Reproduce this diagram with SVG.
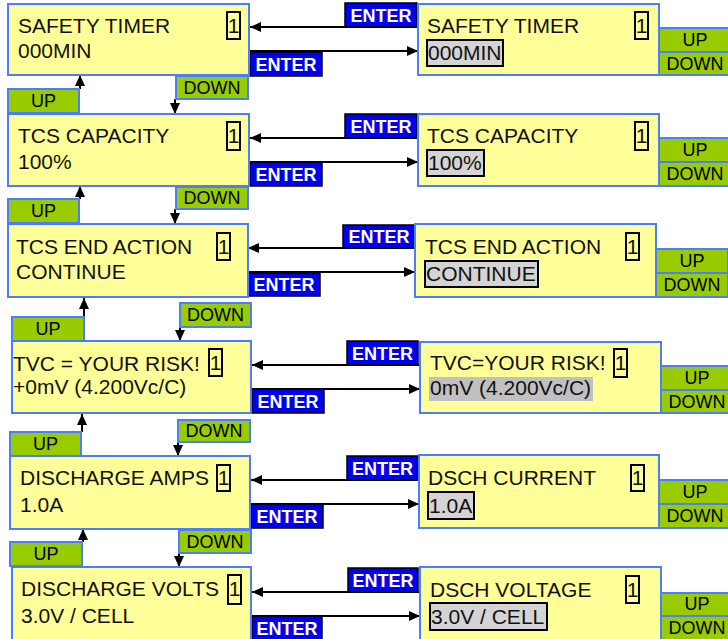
<svg xmlns="http://www.w3.org/2000/svg" width="728" height="639" viewBox="0 0 728 639">
<defs>
<marker id="ah" markerUnits="userSpaceOnUse" markerWidth="12" markerHeight="10" refX="11" refY="5" orient="auto">
<path d="M0,0 L11,5 L0,10 Z" fill="#000"/>
</marker>
<style>
.box{fill:#ffff99;stroke:#4a7dff;stroke-width:2}
.grn{fill:#99cc00;stroke:#4a7dff;stroke-width:2}
.ent{fill:#0000ee;stroke:#000;stroke-width:1.5}
.one{fill:none;stroke:#000;stroke-width:2}
.hl{fill:#d4d4d4;stroke:#000;stroke-width:2}
.t{font-family:"Liberation Sans",Arial,sans-serif;font-size:21px;fill:#111}
.g{font-family:"Liberation Sans",Arial,sans-serif;font-size:18px;fill:#000;text-anchor:middle}
.e{font-family:"Liberation Sans",Arial,sans-serif;font-size:18px;font-weight:bold;fill:#fff;text-anchor:middle}
.c{fill:none;stroke:#000;stroke-width:2;marker-end:url(#ah)}
</style>
</defs>

<g id="connectors">
<line class="c" x1="417" y1="27" x2="250" y2="27"/>
<line class="c" x1="250" y1="51" x2="418" y2="51"/>
<line class="c" x1="417" y1="138" x2="250" y2="138"/>
<line class="c" x1="250" y1="162" x2="418" y2="162"/>
<line class="c" x1="415" y1="248" x2="248" y2="248"/>
<line class="c" x1="248" y1="272" x2="415" y2="272"/>
<line class="c" x1="420" y1="365" x2="252" y2="365"/>
<line class="c" x1="252" y1="389" x2="420" y2="389"/>
<line class="c" x1="419" y1="480" x2="251" y2="480"/>
<line class="c" x1="251" y1="504" x2="419" y2="504"/>
<line class="c" x1="420" y1="592" x2="252" y2="592"/>
<line class="c" x1="252" y1="616" x2="420" y2="616"/>
<line class="c" x1="80" y1="89" x2="80" y2="75"/>
<line class="c" x1="80" y1="199" x2="80" y2="186"/>
<line class="c" x1="84" y1="317" x2="84" y2="298"/>
<line class="c" x1="82" y1="432" x2="82" y2="414"/>
<line class="c" x1="83" y1="542" x2="83" y2="529"/>
<line class="c" x1="175" y1="99" x2="175" y2="114"/>
<line class="c" x1="175" y1="209" x2="175" y2="224"/>
<line class="c" x1="180" y1="327" x2="180" y2="341"/>
<line class="c" x1="178" y1="442" x2="178" y2="456"/>
<line class="c" x1="179" y1="553" x2="179" y2="567"/>
</g>

<g id="enter-labels">
<rect class="ent" x="345" y="3" width="72" height="24"/><text class="e" x="381" y="22">ENTER</text>
<rect class="ent" x="250" y="52" width="72" height="24"/><text class="e" x="286" y="71">ENTER</text>
<rect class="ent" x="345" y="114" width="72" height="24"/><text class="e" x="381" y="133">ENTER</text>
<rect class="ent" x="250" y="162" width="72" height="24"/><text class="e" x="286" y="181">ENTER</text>
<rect class="ent" x="343" y="225" width="72" height="23"/><text class="e" x="379" y="243">ENTER</text>
<rect class="ent" x="248" y="273" width="72" height="23"/><text class="e" x="284" y="291">ENTER</text>
<rect class="ent" x="347" y="341" width="71" height="24"/><text class="e" x="382.5" y="360">ENTER</text>
<rect class="ent" x="252" y="389" width="72" height="24"/><text class="e" x="288" y="408">ENTER</text>
<rect class="ent" x="347" y="456" width="71" height="24"/><text class="e" x="382.5" y="475">ENTER</text>
<rect class="ent" x="251" y="504" width="72" height="24"/><text class="e" x="287" y="523">ENTER</text>
<rect class="ent" x="348" y="568" width="70" height="24"/><text class="e" x="383" y="587">ENTER</text>
<rect class="ent" x="252" y="616" width="70" height="24"/><text class="e" x="287" y="635">ENTER</text>
</g>

<g id="updown-labels">
<rect class="grn" x="8" y="89" width="71" height="24"/><text class="g" x="43.5" y="107">UP</text>
<rect class="grn" x="176" y="76" width="72" height="23"/><text class="g" x="212" y="94">DOWN</text>
<rect class="grn" x="8" y="199" width="71" height="24"/><text class="g" x="43.5" y="217">UP</text>
<rect class="grn" x="176" y="187" width="72" height="22"/><text class="g" x="212" y="204">DOWN</text>
<rect class="grn" x="12" y="317" width="72" height="24"/><text class="g" x="48" y="335">UP</text>
<rect class="grn" x="180" y="303" width="71" height="24"/><text class="g" x="215.5" y="321">DOWN</text>
<rect class="grn" x="10" y="432" width="71" height="24"/><text class="g" x="45.5" y="450">UP</text>
<rect class="grn" x="178" y="420" width="72" height="22"/><text class="g" x="214" y="437">DOWN</text>
<rect class="grn" x="10" y="542" width="72" height="24"/><text class="g" x="46" y="560">UP</text>
<rect class="grn" x="179" y="530" width="72" height="23"/><text class="g" x="215" y="548">DOWN</text>
<rect class="grn" x="659" y="28" width="72" height="24"/><text class="g" x="695" y="46">UP</text>
<rect class="grn" x="659" y="52" width="72" height="23"/><text class="g" x="695" y="70">DOWN</text>
<rect class="grn" x="659" y="138" width="72" height="24"/><text class="g" x="695" y="156">UP</text>
<rect class="grn" x="659" y="162" width="72" height="24"/><text class="g" x="695" y="180">DOWN</text>
<rect class="grn" x="656" y="249" width="72" height="24"/><text class="g" x="692" y="267">UP</text>
<rect class="grn" x="656" y="273" width="72" height="24"/><text class="g" x="692" y="291">DOWN</text>
<rect class="grn" x="661" y="366" width="72" height="24"/><text class="g" x="697" y="384">UP</text>
<rect class="grn" x="661" y="390" width="72" height="23"/><text class="g" x="697" y="408">DOWN</text>
<rect class="grn" x="659" y="480" width="72" height="24"/><text class="g" x="695" y="498">UP</text>
<rect class="grn" x="659" y="504" width="72" height="24"/><text class="g" x="695" y="522">DOWN</text>
<rect class="grn" x="661" y="593" width="72" height="23"/><text class="g" x="697" y="610">UP</text>
<rect class="grn" x="661" y="616" width="72" height="24"/><text class="g" x="697" y="634">DOWN</text>
</g>

<g id="safety-timer">
<rect class="box" x="8" y="4" width="241" height="71"/>
<text class="t" x="18" y="33">SAFETY TIMER</text>
<text class="t" x="18" y="58">000MIN</text>
<rect class="one" x="227" y="12" width="13" height="27"/><text class="t" x="233.5" y="33" text-anchor="middle">1</text>
</g>
<g id="safety-timer-edit">
<rect class="box" x="418" y="4" width="241" height="71"/>
<text class="t" x="427" y="33">SAFETY TIMER</text>
<rect class="hl" x="427" y="40" width="76" height="26"/>
<text class="t" x="428" y="60">000MIN</text>
<rect class="one" x="635" y="12" width="13" height="27"/><text class="t" x="641.5" y="33" text-anchor="middle">1</text>
</g>

<g id="tcs-capacity">
<rect class="box" x="8" y="114" width="241" height="72"/>
<text class="t" x="18" y="143">TCS CAPACITY</text>
<text class="t" x="18" y="169">100%</text>
<rect class="one" x="227" y="122" width="13" height="28"/><text class="t" x="233.5" y="143" text-anchor="middle">1</text>
</g>
<g id="tcs-capacity-edit">
<rect class="box" x="418" y="114" width="241" height="72"/>
<text class="t" x="427" y="143">TCS CAPACITY</text>
<rect class="hl" x="427" y="150" width="57" height="26"/>
<text class="t" x="428" y="170">100%</text>
<rect class="one" x="635" y="122" width="13" height="28"/><text class="t" x="641.5" y="143" text-anchor="middle">1</text>
</g>

<g id="tcs-end-action">
<rect class="box" x="8" y="224" width="240" height="73"/>
<text class="t" x="16" y="254">TCS END ACTION</text>
<text class="t" x="16" y="279">CONTINUE</text>
<rect class="one" x="217" y="233" width="13" height="27"/><text class="t" x="223.5" y="254" text-anchor="middle">1</text>
</g>
<g id="tcs-end-action-edit">
<rect class="box" x="415" y="224" width="241" height="73"/>
<text class="t" x="425" y="254">TCS END ACTION</text>
<rect class="hl" x="425" y="261" width="113" height="26"/>
<text class="t" x="426" y="281">CONTINUE</text>
<rect class="one" x="626" y="233" width="13" height="27"/><text class="t" x="632.5" y="254" text-anchor="middle">1</text>
</g>

<g id="tvc">
<rect class="box" x="12" y="341" width="239" height="72"/>
<text class="t" x="13" y="371">TVC = YOUR RISK!</text>
<text class="t" x="13" y="394">+0mV (4.200Vc/C)</text>
<rect class="one" x="209" y="349" width="13" height="27"/><text class="t" x="215.5" y="370" text-anchor="middle">1</text>
</g>
<g id="tvc-edit">
<rect class="box" x="420" y="342" width="241" height="71"/>
<text class="t" x="430" y="370">TVC=YOUR RISK!</text>
<rect x="429" y="377" width="164" height="24" fill="#c0c0c0"/>
<text class="t" x="430" y="395">0mV (4.200Vc/C)</text>
<rect class="one" x="614" y="349" width="13" height="28"/><text class="t" x="620.5" y="370" text-anchor="middle">1</text>
</g>

<g id="discharge-amps">
<rect class="box" x="10" y="456" width="240" height="73"/>
<text class="t" x="20" y="485">DISCHARGE AMPS</text>
<text class="t" x="20" y="512">1.0A</text>
<rect class="one" x="217" y="465" width="13" height="26"/><text class="t" x="223.5" y="485" text-anchor="middle">1</text>
</g>
<g id="dsch-current">
<rect class="box" x="419" y="455" width="240" height="73"/>
<text class="t" x="428" y="485">DSCH CURRENT</text>
<rect class="hl" x="428" y="492" width="46" height="27"/>
<text class="t" x="429" y="513">1.0A</text>
<rect class="one" x="631" y="465" width="13" height="26"/><text class="t" x="637.5" y="485" text-anchor="middle">1</text>
</g>

<g id="discharge-volts">
<rect class="box" x="12" y="567" width="239" height="75"/>
<text class="t" x="21" y="596">DISCHARGE VOLTS</text>
<text class="t" x="21" y="623">3.0V / CELL</text>
<rect class="one" x="228" y="575" width="13" height="29"/><text class="t" x="234.5" y="596" text-anchor="middle">1</text>
</g>
<g id="dsch-voltage">
<rect class="box" x="420" y="567" width="241" height="75"/>
<text class="t" x="430" y="597">DSCH VOLTAGE</text>
<rect class="hl" x="430" y="603" width="117" height="27"/>
<text class="t" x="431" y="624">3.0V / CELL</text>
<rect class="one" x="626" y="576" width="13" height="27"/><text class="t" x="632.5" y="597" text-anchor="middle">1</text>
</g>
</svg>
